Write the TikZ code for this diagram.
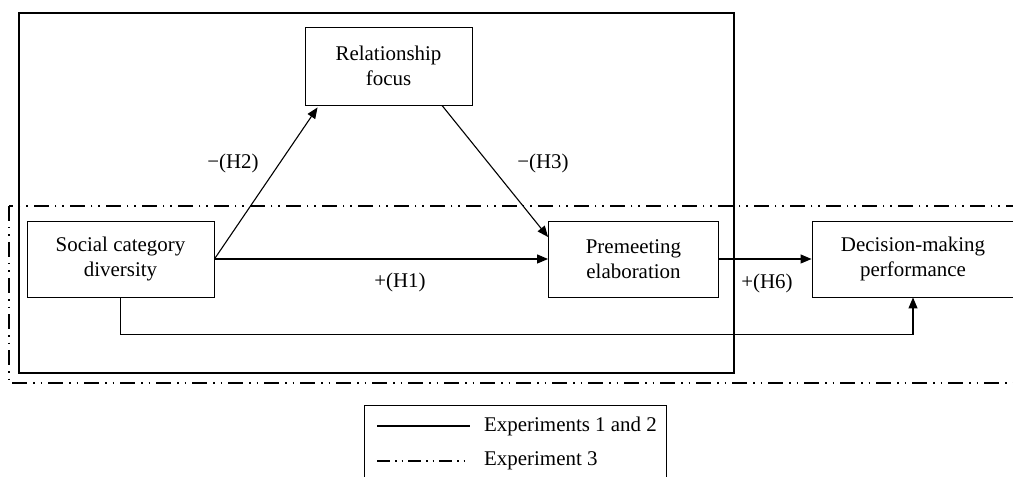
\documentclass[tikz,border=0pt]{standalone}
\usepackage{fontspec}
\setmainfont{Liberation Serif}
\usetikzlibrary{arrows.meta,calc}
\begin{document}
\begin{tikzpicture}[x=1bp,y=-1bp,
  box/.style={draw,line width=0.9bp,minimum height=76bp,align=center,inner sep=0pt,font=\fontsize{21}{25}\selectfont},
  lbl/.style={inner sep=0pt,font=\fontsize{21}{25}\selectfont},
  arr/.style={line width=1.1bp,-{Triangle[length=11bp,width=9bp]}},
  dashdotbig/.style={line width=1.1bp,dash pattern=on 15bp off 6bp on 1.5bp off 6bp on 1.5bp off 6bp},
  dashdotsmall/.style={line width=1.1bp,dash pattern=on 13bp off 5bp on 1.5bp off 5bp on 1.5bp off 5bp},
  solidframe/.style={line width=2.4bp}]
\clip (0,0) rectangle (1013,477);
% frames
\draw[solidframe] (19,13) rectangle (734,373);
\draw[dashdotbig] (9,206) rectangle (1040,383);
% nodes
\node[box,minimum width=187bp] (soc) at (120.5,259) {Social category\\diversity};
\node[box,minimum width=167bp,minimum height=78bp] (rel) at (388.5,66) {Relationship\\focus};
\node[box,minimum width=170bp] (pre) at (633.5,259) {Premeeting\\elaboration};
\node[box,minimum width=202bp,fill=white] (dec) at (913,259) {Decision-making\\performance};
% connectors
\coordinate (h2end) at ($(rel.south west)+(13,2)$);
\coordinate (h3start) at ($(rel.south)+(53.5,0)$);
\coordinate (h3end) at ($(pre.west)+(0,-22)$);
\draw[arr] (soc.east) -- (pre.west);
\draw[arr] (soc.east) -- (h2end);
\draw[arr] (h3start) -- (h3end);
\draw[arr] (pre.east) -- (dec.west);
\draw[arr] (soc.south) -- ++(0,37) -| (dec.south);
% labels
\node[lbl] (lh2) at (233,163) {−(H2)};
\node[lbl] (lh3) at (543,163) {−(H3)};
\node[lbl] (lh1) at (400,282) {+(H1)};
\node[lbl] (lh6) at (767,283) {+(H6)};
% legend
\draw[line width=0.9bp] (364,405) rectangle (666,520);
\coordinate (l1a) at (377,426);
\coordinate (l1b) at (470,426);
\coordinate (l2a) at (377,461);
\coordinate (l2b) at (470,461);
\draw[line width=1.8bp] (l1a) -- (l1b);
\draw[dashdotsmall] (l2a) -- (l2b);
\node[lbl,anchor=west] (t1) at (484,426) {Experiments 1 and 2};
\node[lbl,anchor=west] (t2) at (484,461) {Experiment 3};
\end{tikzpicture}
\end{document}
